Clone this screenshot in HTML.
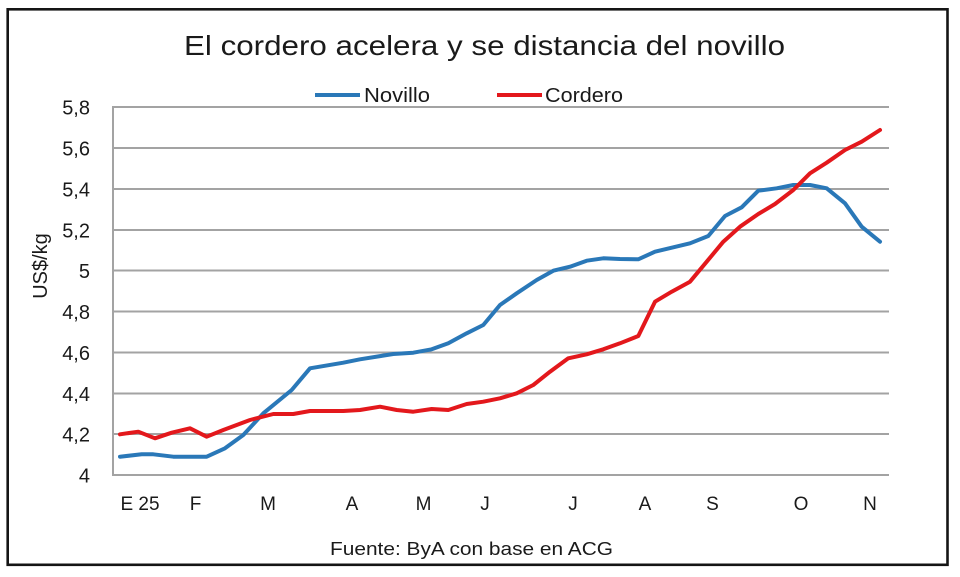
<!DOCTYPE html>
<html>
<head>
<meta charset="utf-8">
<style>
  html, body { margin:0; padding:0; background:#ffffff; }
  svg { display:block; }
  text { font-family: "Liberation Sans", "DejaVu Sans", sans-serif; fill:#1a1a1a; }
</style>
</head>
<body>
<svg width="960" height="577" viewBox="0 0 960 577" xmlns="http://www.w3.org/2000/svg">
  <rect x="0" y="0" width="960" height="577" fill="#ffffff"/>
  <rect x="7.7" y="9.3" width="939.8" height="555.5" fill="#ffffff" stroke="#151515" stroke-width="2.6"/>

  <!-- Title -->
  <text x="184" y="55" font-size="28" textLength="601" lengthAdjust="spacingAndGlyphs">El cordero acelera y se distancia del novillo</text>

  <!-- Legend -->
  <line x1="315" y1="95" x2="360" y2="95" stroke="#2a78b8" stroke-width="4"/>
  <text x="364" y="102" font-size="20" textLength="66" lengthAdjust="spacingAndGlyphs">Novillo</text>
  <line x1="497" y1="95" x2="542" y2="95" stroke="#e3181c" stroke-width="4"/>
  <text x="545" y="102" font-size="20" textLength="78" lengthAdjust="spacingAndGlyphs">Cordero</text>

  <!-- Gridlines -->
  <g stroke="#a3a3a3" stroke-width="2">
    <line x1="113" y1="107" x2="889" y2="107"/>
    <line x1="113" y1="148" x2="889" y2="148"/>
    <line x1="113" y1="189" x2="889" y2="189"/>
    <line x1="113" y1="230" x2="889" y2="230"/>
    <line x1="113" y1="270.5" x2="889" y2="270.5"/>
    <line x1="113" y1="311.5" x2="889" y2="311.5"/>
    <line x1="113" y1="352.5" x2="889" y2="352.5"/>
    <line x1="113" y1="393.5" x2="889" y2="393.5"/>
    <line x1="113" y1="434" x2="889" y2="434"/>
    <line x1="113" y1="475" x2="889" y2="475"/>
    <line x1="113" y1="106" x2="113" y2="476"/>
  </g>

  <!-- Y tick labels -->
  <g font-size="20" text-anchor="end">
    <text x="90" y="114.5">5,8</text>
    <text x="90" y="155.5">5,6</text>
    <text x="90" y="196.5">5,4</text>
    <text x="90" y="237.5">5,2</text>
    <text x="90" y="278">5</text>
    <text x="90" y="319">4,8</text>
    <text x="90" y="360">4,6</text>
    <text x="90" y="401">4,4</text>
    <text x="90" y="441.5">4,2</text>
    <text x="90" y="482.5">4</text>
  </g>

  <!-- Y axis title -->
  <text transform="translate(47,266) rotate(-90)" font-size="20" text-anchor="middle">US$/kg</text>

  <!-- X labels -->
  <g font-size="19" text-anchor="middle">
    <text x="140" y="510">E 25</text>
    <text x="195.5" y="510">F</text>
    <text x="268" y="510">M</text>
    <text x="352" y="510">A</text>
    <text x="423.5" y="510">M</text>
    <text x="485" y="510">J</text>
    <text x="573" y="510">J</text>
    <text x="645" y="510">A</text>
    <text x="712.5" y="510">S</text>
    <text x="801" y="510">O</text>
    <text x="870" y="510">N</text>
  </g>

  <!-- Novillo (blue) -->
  <polyline fill="none" stroke="#2a78b8" stroke-width="4" stroke-linejoin="round" stroke-linecap="round"
    points="120,456.7 141.7,454.3 153.3,454.3 173.3,456.7 206.7,456.7 225,448.3 243.3,435 263.3,413.3 291.7,390 310,368.3 343.3,362.7 360,359.3 393.3,354 413.3,352.7 431.7,349.3 448.3,343.3 466.7,333.3 483.3,325 500,305 516.7,293.3 536.7,280 553.3,270.7 570,266.7 586.7,260.7 603.3,258.3 620,259 638.3,259.3 655,251.7 673.3,247.3 690,243.3 708.3,236 725,216 741.7,207.3 758.3,190.7 776.7,188.3 793.3,185 810,185 826.7,188.3 845,203.3 861.7,226.7 880,241.7"/>

  <!-- Cordero (red) -->
  <polyline fill="none" stroke="#e3181c" stroke-width="4" stroke-linejoin="round" stroke-linecap="round"
    points="120,434.3 138.3,431.7 155,438.3 171.7,432.7 190,428.3 206.7,436.7 223.3,430 250,420 273.3,414 293.3,414 310,411 343.3,411 360,410 380,406.7 396.7,410 413.3,411.7 431.7,409 448.3,410 466.7,404 483.3,401.7 500,398.3 516.7,393.3 533.3,385 550,371.7 568.3,358.3 586.7,354.3 603.3,349.3 620,343.3 638.3,336 655,301.7 671.7,291.7 690,281.7 706.7,261.7 723.3,241.7 740,226.7 758.3,214 775,204 793.3,190 810,173.3 826.7,162.7 845,150 861.7,141.7 880,130"/>

  <!-- Source -->
  <text x="330" y="555" font-size="18.5" textLength="283" lengthAdjust="spacingAndGlyphs">Fuente: ByA con base en ACG</text>
</svg>
</body>
</html>
